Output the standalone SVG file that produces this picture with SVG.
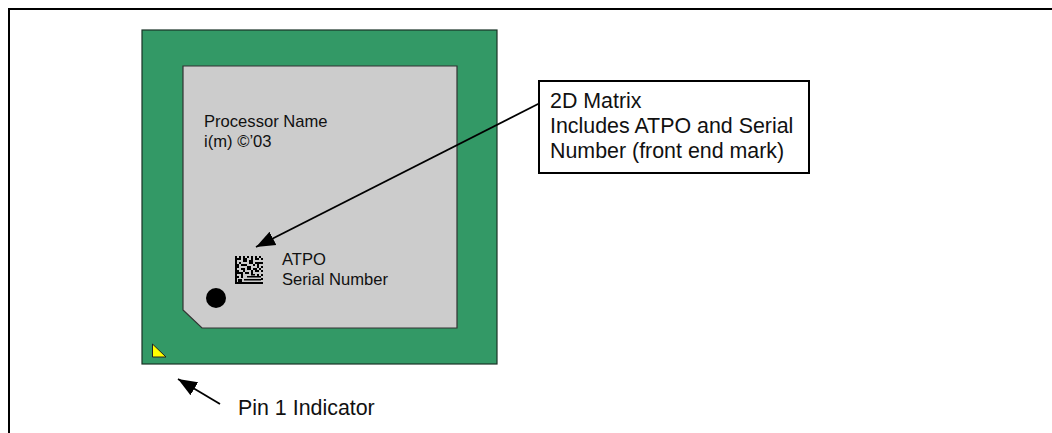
<svg xmlns="http://www.w3.org/2000/svg" width="1052" height="433" viewBox="0 0 1052 433">
<style>
text{font-family:"Liberation Sans",Arial,sans-serif;font-size:16.6px;fill:#111}
.big{font-size:21.4px}
.c{stroke:#000;stroke-width:1.8;fill:none}
</style>
<defs>
<marker id="ah" markerUnits="userSpaceOnUse" markerWidth="22" markerHeight="18" refX="19" refY="9" orient="auto" viewBox="0 0 22 18"><path d="M19 9L0 1.500L0 16.500Z" fill="#000"/></marker>
</defs>
<rect width="1052" height="433" fill="#fff"/>
<path id="frame" d="M1052 9H9V433" fill="none" stroke="#000" stroke-width="2"/>
<g id="package">
<rect x="142" y="30" width="355" height="334" fill="#339966" stroke="#1a3326" stroke-width="1.2"/>
</g>
<g id="die">
<path d="M183 66H457V328H202L183 310Z" fill="#cccccc" stroke="#333" stroke-width="1.2"/>
<text x="204" y="127">Processor Name</text>
<text x="204" y="147">i(m) ©’03</text>
</g>
<g id="pin1-mark">
<path d="M152.500 344V357H166Z" fill="#ffff00" stroke="#222" stroke-width="1"/>
</g>
<g id="dot">
<circle cx="216" cy="298" r="10" fill="#000"/>
</g>
<g id="matrix">
<path fill="#000" d="M235 256h2v28h-2zM235 282h28v2h-28zM239 256h2v2h-2zM243 256h2v2h-2zM247 256h2v2h-2zM251 256h2v2h-2zM255 256h2v2h-2zM259 256h2v2h-2zM261 258h2v2h-2zM261 262h2v2h-2zM261 266h2v2h-2zM261 270h2v2h-2zM261 274h2v2h-2zM261 278h2v2h-2zM237 258h4v2h-4zM243 258h4v4h-4zM251 258h2v2h-2zM255 258h4v2h-4zM239 262h2v2h-2zM249 260h4v4h-4zM255 262h6v2h-6zM237 264h2v4h-2zM241 264h6v2h-6zM253 264h2v2h-2zM257 264h2v4h-2zM241 268h4v2h-4zM247 266h4v4h-4zM253 268h4v2h-4zM259 268h2v2h-2zM237 270h2v4h-2zM243 270h2v2h-2zM251 270h2v4h-2zM255 270h4v2h-4zM239 272h4v2h-4zM245 272h4v2h-4zM257 274h2v2h-2zM241 274h2v4h-2zM247 276h14v1.500h-14zM237 276h2v2h-2zM251 274h4v1.500h-4zM244 279h17v1.500h-17zM238 279h4v3h-4z"/>
</g>
<g id="connectors">
<path class="c" d="M540 103L256 247" marker-end="url(#ah)"/>
<path class="c" d="M220 404L178 379" marker-end="url(#ah)"/>
</g>
<g id="callout">
<rect x="539" y="81" width="270" height="92" fill="#fff" stroke="#000" stroke-width="2"/>
<text class="big" x="550" y="108">2D Matrix</text>
<text class="big" x="550" y="133">Includes ATPO and Serial</text>
<text class="big" x="550" y="158">Number (front end mark)</text>
</g>
<g id="labels">
<text x="282" y="265">ATPO</text>
<text x="282" y="285">Serial Number</text>
<text class="big" x="238" y="415">Pin 1 Indicator</text>
</g>
</svg>
